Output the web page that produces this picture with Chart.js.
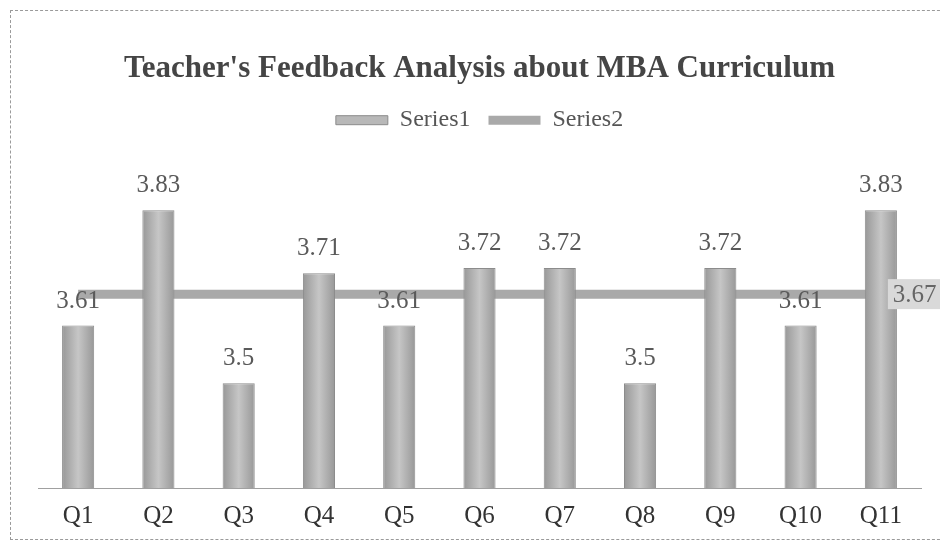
<!DOCTYPE html>
<html>
<head>
<meta charset="utf-8">
<script src="https://cdn.jsdelivr.net/npm/chart.js@4/dist/chart.umd.min.js"></script>
<style>
  html, body { margin: 0; padding: 0; background: #fff; }
  #wrap { position: relative; width: 940px; height: 555px; }
  #frame {
    position: absolute; left: 10px; top: 10px; width: 960px; height: 530px;
    border: 1px dashed #9a9a9a; box-sizing: border-box;
  }
  canvas { position: absolute; left: 0; top: 0; }
</style>
</head>
<body>
<div id="wrap">
  <div id="frame"></div>
  <canvas id="chart" width="940" height="555"></canvas>
</div>
<script>
/* Teacher's feedback chart — bar per question plus the mean as a flat line */

const QUESTIONS = ['Q1', 'Q2', 'Q3', 'Q4', 'Q5', 'Q6', 'Q7', 'Q8', 'Q9', 'Q10', 'Q11'];
const SERIES1 = [3.61, 3.83, 3.5, 3.71, 3.61, 3.72, 3.72, 3.5, 3.72, 3.61, 3.83];
const SERIES2 = [3.67, 3.67, 3.67, 3.67, 3.67, 3.67, 3.67, 3.67, 3.67, 3.67, 3.67];
const SERIES2_LABEL = '3.67';

const FONT = '"Liberation Serif", "Times New Roman", serif';

// ─── Bar fill: light middle, darker edges ────────────────────────────────────

function barFill(ctx) {
  const chart = ctx.chart;
  if (!chart.chartArea || ctx.type !== 'data') return '#b5b5b5';
  const cx = chart.scales.x.getPixelForValue(ctx.dataIndex);
  const half = 16;
  const g = chart.ctx.createLinearGradient(cx - half, 0, cx + half, 0);
  g.addColorStop(0, '#989898');
  g.addColorStop(0.5, '#c6c6c6');
  g.addColorStop(1, '#989898');
  return g;
}

// ─── Data labels ─────────────────────────────────────────────────────────────

const valueLabels = {
  id: 'valueLabels',
  afterDatasetsDraw(chart) {
    const c = chart.ctx;
    c.save();
    c.font = '25px ' + FONT;
    c.fillStyle = '#5a5a5a';
    c.textAlign = 'center';
    c.textBaseline = 'bottom';
    chart.getDatasetMeta(0).data.forEach((el, i) => {
      c.fillText(String(SERIES1[i]), el.x, el.y - 12);
    });

    // label for the mean line, at its last point
    const pts = chart.getDatasetMeta(1).data;
    const last = pts[pts.length - 1];
    c.fillStyle = '#d9d9d9';
    c.fillRect(last.x + 7, last.y - 15, 62, 30);
    c.fillStyle = '#666';
    c.textAlign = 'left';
    c.textBaseline = 'middle';
    c.fillText(SERIES2_LABEL, last.x + 12, last.y + 1);
    c.restore();
  },
};

// ─── Chart ───────────────────────────────────────────────────────────────────

new Chart(document.getElementById('chart'), {
  data: {
    labels: QUESTIONS,
    datasets: [
      {
        type: 'bar',
        label: 'Series1',
        data: SERIES1,
        backgroundColor: barFill,
        borderColor: '#8c8c8c',
        borderWidth: 1,
        barPercentage: 0.4,
        categoryPercentage: 1.0,
        order: 0,
      },
      {
        type: 'line',
        label: 'Series2',
        data: SERIES2,
        borderColor: '#a9a9a9',
        backgroundColor: '#a9a9a9',
        borderWidth: 9,
        pointRadius: 0,
        order: 1,
      },
    ],
  },
  options: {
    responsive: false,
    animation: false,
    layout: { padding: { left: 38, right: 19, top: 0, bottom: 19 } },
    plugins: {
      title: {
        display: true,
        text: "Teacher's Feedback Analysis about MBA Curriculum",
        color: '#454545',
        font: { family: FONT, size: 31, weight: 'bold' },
        padding: { top: 50, bottom: 3 },
      },
      legend: {
        labels: {
          color: '#555',
          font: { family: FONT, size: 24 },
          boxWidth: 52,
          boxHeight: 9,
          padding: 18,
          generateLabels: chart => [
            { text: 'Series1', fillStyle: '#b8b8b8', strokeStyle: '#8c8c8c', lineWidth: 1, datasetIndex: 0, fontColor: '#555' },
            { text: 'Series2', fillStyle: '#a9a9a9', strokeStyle: '#a9a9a9', lineWidth: 0, datasetIndex: 1, fontColor: '#555' },
          ],
        },
      },
      tooltip: { enabled: false },
    },
    scales: {
      x: {
        grid: { display: false },
        border: { color: '#a0a0a0', width: 1 },
        ticks: { color: '#333', font: { family: FONT, size: 25 }, padding: 5 },
      },
      y: {
        display: false,
        min: 3.3,
        max: 3.96,
      },
    },
  },
  plugins: [valueLabels],
});
</script>
</body>
</html>
